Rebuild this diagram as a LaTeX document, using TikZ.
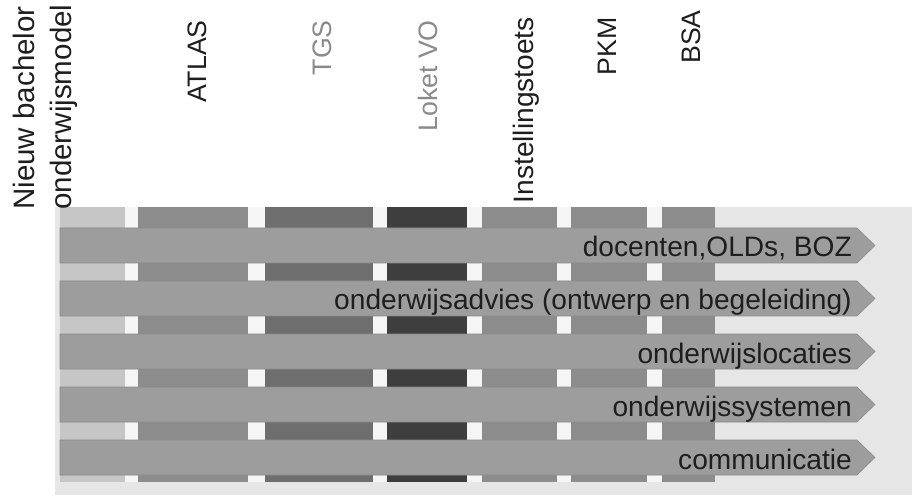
\documentclass[tikz,border=0pt]{standalone}
\usepackage{fontspec}
\setmainfont{Liberation Sans}
\definecolor{bggray}{HTML}{E6E6E6}
\definecolor{gapwhite}{HTML}{F5F5F5}
\definecolor{colone}{HTML}{C6C6C6}
\definecolor{coltwo}{HTML}{8C8C8C}
\definecolor{colthree}{HTML}{6E6E6E}
\definecolor{colfour}{HTML}{3E3E3E}
\definecolor{arrowgray}{HTML}{9D9D9D}
\definecolor{arrowedge}{HTML}{8A8A8A}
\definecolor{labelgray}{HTML}{8A8A8A}
\definecolor{textblack}{HTML}{1E1E1E}
\begin{document}
\begin{tikzpicture}[x=0.025cm, y=-0.025cm,
            toplabel/.style={rotate=90, anchor=east, inner sep=0pt, text=textblack, font=\fontsize{19}{25}\selectfont},
            biglabel/.style={toplabel, font=\fontsize{20}{25.5}\selectfont},
            rowlabel/.style={anchor=base east, inner sep=0pt, text=textblack, font=\fontsize{20}{24}\selectfont}]
            \useasboundingbox (0,0) rectangle (912,497);
            % light background behind the columns
            \fill[bggray] (55,207) rectangle (912,495);
            \fill[gapwhite] (60,207) rectangle (715,482);
            % 7 columns: left edge / right edge / colour
            \foreach \l/\r/\c in {60/125/colone, 138/248/coltwo, 265/373/colthree, 387/467/colfour, 482/557/coltwo, 571/647/coltwo, 662/715/coltwo}
            \fill[\c] (\l,207) rectangle (\r,482);
            % 5 arrows over the columns, 53 apart
            \foreach \i in {0,1,2,3,4}
            \filldraw[fill=arrowgray, draw=arrowedge] (60,228+53*\i) -- (857,228+53*\i) -- (875,245.5+53*\i) -- (857,263+53*\i) -- (60,263+53*\i) -- cycle;
            % text in the arrows, right aligned
            \foreach \i/\t in {0/{docenten,OLDs, BOZ}, 1/{onderwijsadvies (ontwerp en begeleiding)}, 2/{onderwijslocaties}, 3/{onderwijssystemen}, 4/{communicatie}}
            \node[rowlabel] (row\i) at (852,257+53*\i) {\t};
            % column titles, turned up
            \node[biglabel, anchor=west, align=left, font=\fontsize{21}{26.5}\selectfont] (nieuw) at (45,210) {Nieuw bachelor\\onderwijsmodel};
            \node[toplabel] (atlas) at (197,20) {ATLAS};
            \node[toplabel, text=labelgray] (tgs) at (322,20) {TGS};
            \node[toplabel, text=labelgray] (loket) at (428,20) {Loket VO};
            \node[biglabel] (itoets) at (526,17) {Instellingstoets};
            \node[toplabel] (pkm) at (607,17) {PKM};
            \node[toplabel] (bsa) at (691,10) {BSA};
        \end{tikzpicture}
\end{document}
